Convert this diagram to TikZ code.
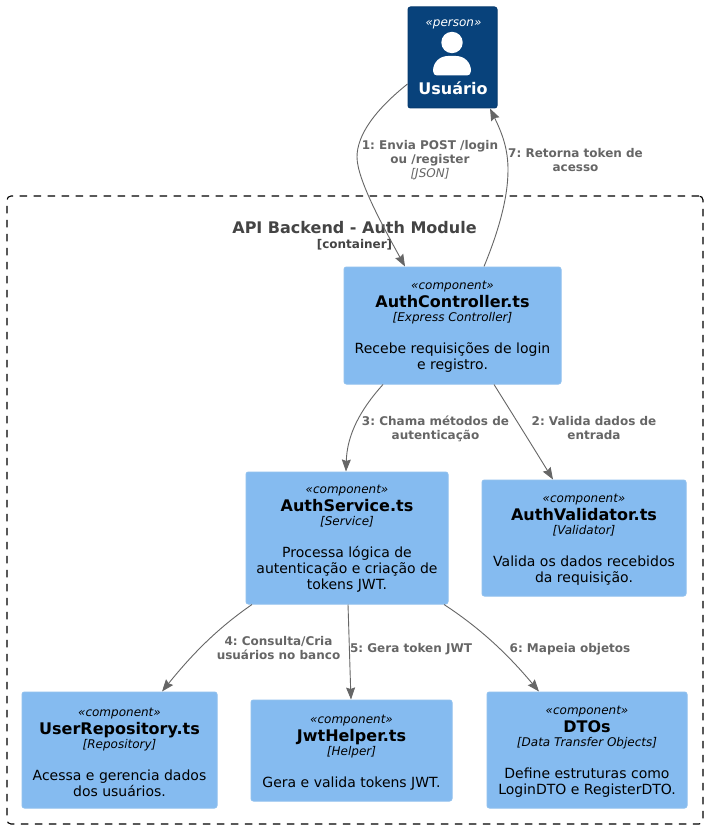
\documentclass[tikz,border=0pt]{standalone}
\usepackage{fontspec}
\setmainfont{DejaVu Sans}
\usetikzlibrary{arrows.meta,calc}
\definecolor{personfill}{HTML}{08427B}
\definecolor{personline}{HTML}{073B6F}
\definecolor{compfill}{HTML}{85BBF0}
\definecolor{compline}{HTML}{8FC0EE}
\definecolor{linkgray}{HTML}{666666}
\definecolor{titlegray}{HTML}{444444}
\newcommand{\stereo}[2][12.5pt]{{\fontsize{12}{15}\selectfont\itshape\rule{0pt}{#1}#2}}
\newcommand{\ctitle}[1]{{\fontsize{16}{15}\selectfont\bfseries #1}}
\newcommand{\tech}[1]{{\fontsize{12}{15}\selectfont\itshape #1}}
\tikzset{
  basebox/.style={rectangle,rounded corners=2.5,line width=1,inner sep=0,align=center,
    font=\fontsize{14}{15}\selectfont},
  comp/.style={basebox,draw=compline,fill=compfill,text=black},
  person/.style={basebox,draw=personline,fill=personfill,text=white},
  link/.style={draw=linkgray,line width=0.9,-{Stealth[length=12,width=9,inset=1.5]}},
  linklabel/.style={inner sep=0,align=center,text=linkgray,
    font=\fontsize{12}{15}\selectfont\bfseries},
}
\begin{document}
\lineskiplimit=-100pt\relax
\frenchspacing
\begin{tikzpicture}[x=1pt,y=-1pt]
\useasboundingbox (0,0) rectangle (707,829);
\fill[white] (0,0) rectangle (707,829);
% container
\node[draw=black,dash pattern=on 7.5pt off 6.5pt,rounded corners=4,line width=1.1,
  minimum width=696,minimum height=628,inner sep=0] (boundary) at (355,510) {};
\node[text=titlegray,inner sep=0,align=center,font=\fontsize{16}{15}\selectfont\bfseries]
  (boundarytitle) at (354.5,236) {API Backend - Auth Module\\[0pt]{\fontsize{12}{15}\selectfont [container]}};
% person
\node[person,minimum width=89,minimum height=101] (user) at (452.5,57.5) {};
\node[text=white,inner sep=0,font=\fontsize{12}{15}\selectfont\itshape] (userstereo) at (453.5,24) {«person»};
\node[text=white,inner sep=0,font=\fontsize{16}{15}\selectfont\bfseries] (username) at (453,88.5) {Usuário};
\fill[white] (452,42.5) circle (10.7);
\fill[white] (433,71) .. controls (433,62) and (440,56) .. (448,56) -- (456,56) .. controls (464,56) and (471,62) .. (471,71)
  .. controls (471,74) and (469,75.5) .. (467,75.5) -- (437,75.5) .. controls (435,75.5) and (433,74) .. (433,71) -- cycle;
% components
\node[comp,minimum width=217,minimum height=117] (ctrl) at (452.5,325.5)
 {\stereo[10.5pt]{«component»}\\[3pt]\ctitle{AuthController.ts}\\[-1pt]\tech{[Express Controller]}\\[17pt]Recebe requisições de login\\[1.3pt]e registro.};
\node[comp,minimum width=202,minimum height=132] (svc) at (347,538)
 {\stereo[10pt]{«component»}\\[3pt]\ctitle{AuthService.ts}\\[-1pt]\tech{[Service]}\\[17pt]Processa lógica de\\[1.3pt]autenticação e criação de\\[1.3pt]tokens JWT.};
\node[comp,minimum width=204,minimum height=116] (val) at (584,538)
 {\stereo{«component»}\\[3pt]\ctitle{AuthValidator.ts}\\[-1pt]\tech{[Validator]}\\[17pt]Valida os dados recebidos\\[1.3pt]da requisição.};
\node[comp,minimum width=195,minimum height=116] (repo) at (119.5,750)
 {\stereo{«component»}\\[3pt]\ctitle{UserRepository.ts}\\[-1pt]\tech{[Repository]}\\[17pt]Acessa e gerencia dados\\[1.3pt]dos usuários.};
\node[comp,minimum width=201,minimum height=101] (jwt) at (351.5,750.5)
 {\stereo{«component»}\\[3pt]\ctitle{JwtHelper.ts}\\[-1pt]\tech{[Helper]}\\[17pt]Gera e valida tokens JWT.};
\node[comp,minimum width=200,minimum height=116] (dto) at (587,750)
 {\stereo{«component»}\\[3pt]\ctitle{DTOs}\\[-1pt]\tech{[Data Transfer Objects]}\\[17pt]Define estruturas como\\[1.3pt]LoginDTO e RegisterDTO.};
% connectors
\draw[link] ([yshift=-26.5]user.west) .. controls (375,110) and (357,135) .. (357,157)
  .. controls (357,180) and (385,230) .. ([xshift=-47.5]ctrl.north);
\draw[link] ([xshift=31.5]ctrl.north) .. controls (497,235) and (508,200) .. (508,170)
  .. controls (508,150) and (503,135) .. ([xshift=37.5]user.south);
\draw[link] ([xshift=-69.5]ctrl.south) .. controls (360,410) and (347,435) .. ([xshift=-1]svc.north);
\draw[link] ([xshift=41.5]ctrl.south) .. controls (510,410) and (533,447) .. ([xshift=-31]val.north);
\draw[link] ([xshift=-95]svc.south) .. controls (215,630) and (190,657) .. ([xshift=42.5]repo.north);
\draw[link] ([xshift=1]svc.south) .. controls (349,635) and (350,670) .. ([xshift=-0.5]jwt.north);
\draw[link] ([xshift=97]svc.south) .. controls (483,630) and (510,657) .. ([xshift=-48]dto.north);
% labels
\node[linklabel] (l1) at (430,160.5) {1: Envia POST /login\\[-1pt]ou /register\\[-1pt]{\mdseries\itshape [JSON]}};
\node[linklabel] (l7) at (575.5,160) {7: Retorna token de\\[-1pt]acesso};
\node[linklabel] (l3) at (435.5,428.5) {3: Chama métodos de\\[-1pt]autenticação};
\node[linklabel] (l2) at (594,428.5) {2: Valida dados de\\[-1pt]entrada};
\node[linklabel] (l4) at (278.5,648) {4: Consulta/Cria\\[-1pt]usuários no banco};
\node[linklabel] (l5) at (411,649.5) {5: Gera token JWT};
\node[linklabel] (l6) at (570,649.5) {6: Mapeia objetos};
\end{tikzpicture}
\end{document}
